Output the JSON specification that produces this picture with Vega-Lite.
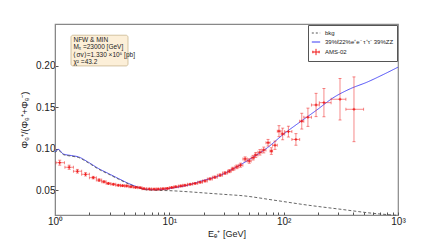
{
  "$schema": "https://vega.github.io/schema/vega-lite/v6.json",
  "width": 343,
  "height": 191,
  "autosize": {"type": "none"},
  "padding": {"left": 55, "top": 24, "right": 45, "bottom": 25},
  "config": {
    "font": "Liberation Sans",
    "view": {"stroke": "#888888", "strokeWidth": 1.2},
    "axis": {"grid": false, "domainColor": "#888888", "tickColor": "#555555", "labelColor": "#222222", "titleColor": "#222222", "labelFont": "Liberation Sans", "titleFont": "Liberation Sans"}
  },
  "datasets": {
    "curves": [
      {"E": 1.0, "v": 0.096, "series": "39%ℓ22%e⁺e⁻ τ⁺τ⁻ 39%ZZ"},
      {"E": 1.07, "v": 0.099, "series": "39%ℓ22%e⁺e⁻ τ⁺τ⁻ 39%ZZ"},
      {"E": 1.18, "v": 0.0935, "series": "39%ℓ22%e⁺e⁻ τ⁺τ⁻ 39%ZZ"},
      {"E": 1.4, "v": 0.0915, "series": "39%ℓ22%e⁺e⁻ τ⁺τ⁻ 39%ZZ"},
      {"E": 1.6, "v": 0.09, "series": "39%ℓ22%e⁺e⁻ τ⁺τ⁻ 39%ZZ"},
      {"E": 1.96, "v": 0.0835, "series": "39%ℓ22%e⁺e⁻ τ⁺τ⁻ 39%ZZ"},
      {"E": 2.4, "v": 0.076, "series": "39%ℓ22%e⁺e⁻ τ⁺τ⁻ 39%ZZ"},
      {"E": 2.93, "v": 0.07, "series": "39%ℓ22%e⁺e⁻ τ⁺τ⁻ 39%ZZ"},
      {"E": 3.58, "v": 0.064, "series": "39%ℓ22%e⁺e⁻ τ⁺τ⁻ 39%ZZ"},
      {"E": 4.4, "v": 0.058, "series": "39%ℓ22%e⁺e⁻ τ⁺τ⁻ 39%ZZ"},
      {"E": 5.35, "v": 0.0534, "series": "39%ℓ22%e⁺e⁻ τ⁺τ⁻ 39%ZZ"},
      {"E": 6.1, "v": 0.051, "series": "39%ℓ22%e⁺e⁻ τ⁺τ⁻ 39%ZZ"},
      {"E": 7.5, "v": 0.0505, "series": "39%ℓ22%e⁺e⁻ τ⁺τ⁻ 39%ZZ"},
      {"E": 9.2, "v": 0.0512, "series": "39%ℓ22%e⁺e⁻ τ⁺τ⁻ 39%ZZ"},
      {"E": 11.2, "v": 0.053, "series": "39%ℓ22%e⁺e⁻ τ⁺τ⁻ 39%ZZ"},
      {"E": 14.6, "v": 0.056, "series": "39%ℓ22%e⁺e⁻ τ⁺τ⁻ 39%ZZ"},
      {"E": 18.6, "v": 0.0605, "series": "39%ℓ22%e⁺e⁻ τ⁺τ⁻ 39%ZZ"},
      {"E": 23, "v": 0.064, "series": "39%ℓ22%e⁺e⁻ τ⁺τ⁻ 39%ZZ"},
      {"E": 28.7, "v": 0.0685, "series": "39%ℓ22%e⁺e⁻ τ⁺τ⁻ 39%ZZ"},
      {"E": 36, "v": 0.0755, "series": "39%ℓ22%e⁺e⁻ τ⁺τ⁻ 39%ZZ"},
      {"E": 51, "v": 0.0875, "series": "39%ℓ22%e⁺e⁻ τ⁺τ⁻ 39%ZZ"},
      {"E": 72, "v": 0.101, "series": "39%ℓ22%e⁺e⁻ τ⁺τ⁻ 39%ZZ"},
      {"E": 99, "v": 0.117, "series": "39%ℓ22%e⁺e⁻ τ⁺τ⁻ 39%ZZ"},
      {"E": 139, "v": 0.132, "series": "39%ℓ22%e⁺e⁻ τ⁺τ⁻ 39%ZZ"},
      {"E": 195, "v": 0.1465, "series": "39%ℓ22%e⁺e⁻ τ⁺τ⁻ 39%ZZ"},
      {"E": 270, "v": 0.161, "series": "39%ℓ22%e⁺e⁻ τ⁺τ⁻ 39%ZZ"},
      {"E": 382, "v": 0.172, "series": "39%ℓ22%e⁺e⁻ τ⁺τ⁻ 39%ZZ"},
      {"E": 537, "v": 0.18, "series": "39%ℓ22%e⁺e⁻ τ⁺τ⁻ 39%ZZ"},
      {"E": 740, "v": 0.189, "series": "39%ℓ22%e⁺e⁻ τ⁺τ⁻ 39%ZZ"},
      {"E": 1000, "v": 0.198, "series": "39%ℓ22%e⁺e⁻ τ⁺τ⁻ 39%ZZ"},
      {"E": 1.0, "v": 0.095, "series": "bkg"},
      {"E": 1.07, "v": 0.098, "series": "bkg"},
      {"E": 1.18, "v": 0.0928, "series": "bkg"},
      {"E": 1.4, "v": 0.0908, "series": "bkg"},
      {"E": 1.6, "v": 0.0893, "series": "bkg"},
      {"E": 1.96, "v": 0.0828, "series": "bkg"},
      {"E": 2.4, "v": 0.0753, "series": "bkg"},
      {"E": 2.93, "v": 0.0693, "series": "bkg"},
      {"E": 3.58, "v": 0.0633, "series": "bkg"},
      {"E": 4.4, "v": 0.0574, "series": "bkg"},
      {"E": 5.35, "v": 0.053, "series": "bkg"},
      {"E": 6.1, "v": 0.0505, "series": "bkg"},
      {"E": 7.5, "v": 0.0497, "series": "bkg"},
      {"E": 10, "v": 0.0493, "series": "bkg"},
      {"E": 14.6, "v": 0.048, "series": "bkg"},
      {"E": 20, "v": 0.0466, "series": "bkg"},
      {"E": 35, "v": 0.0442, "series": "bkg"},
      {"E": 41.5, "v": 0.0435, "series": "bkg"},
      {"E": 81, "v": 0.038, "series": "bkg"},
      {"E": 160, "v": 0.032, "series": "bkg"},
      {"E": 311, "v": 0.027, "series": "bkg"},
      {"E": 608, "v": 0.022, "series": "bkg"},
      {"E": 1000, "v": 0.0195, "series": "bkg"}
    ],
    "ams": [
      {"E": 1.1, "v": 0.083, "lo": 0.080, "hi": 0.086, "elo": 1.02, "ehi": 1.21, "series": "AMS-02"},
      {"E": 1.33, "v": 0.0775, "lo": 0.075, "hi": 0.080, "elo": 1.22, "ehi": 1.45, "series": "AMS-02"},
      {"E": 1.57, "v": 0.0727, "lo": 0.0705, "hi": 0.0749, "elo": 1.45, "ehi": 1.71, "series": "AMS-02"},
      {"E": 1.85, "v": 0.069, "lo": 0.067, "hi": 0.071, "elo": 1.71, "ehi": 2.0, "series": "AMS-02"},
      {"E": 2.16, "v": 0.065, "lo": 0.0635, "hi": 0.0665, "elo": 2.0, "ehi": 2.3, "series": "AMS-02"},
      {"E": 2.43, "v": 0.062, "lo": 0.0605, "hi": 0.0635, "elo": 2.3, "ehi": 2.56, "series": "AMS-02"},
      {"E": 2.68, "v": 0.06, "lo": 0.0588, "hi": 0.0612, "elo": 2.56, "ehi": 2.8, "series": "AMS-02"},
      {"E": 2.93, "v": 0.058, "lo": 0.0568, "hi": 0.0592, "elo": 2.8, "ehi": 3.08, "series": "AMS-02"},
      {"E": 3.24, "v": 0.057, "lo": 0.056, "hi": 0.058, "elo": 3.08, "ehi": 3.4, "series": "AMS-02"},
      {"E": 3.58, "v": 0.0558, "lo": 0.0548, "hi": 0.0568, "elo": 3.4, "ehi": 3.74, "series": "AMS-02"},
      {"E": 3.9, "v": 0.0553, "lo": 0.0543, "hi": 0.0563, "elo": 3.74, "ehi": 4.07, "series": "AMS-02"},
      {"E": 4.24, "v": 0.055, "lo": 0.054, "hi": 0.056, "elo": 4.07, "ehi": 4.43, "series": "AMS-02"},
      {"E": 4.62, "v": 0.054, "lo": 0.053, "hi": 0.055, "elo": 4.43, "ehi": 4.84, "series": "AMS-02"},
      {"E": 5.07, "v": 0.0533, "lo": 0.0523, "hi": 0.0543, "elo": 4.84, "ehi": 5.3, "series": "AMS-02"},
      {"E": 5.54, "v": 0.0529, "lo": 0.0519, "hi": 0.0539, "elo": 5.3, "ehi": 5.77, "series": "AMS-02"},
      {"E": 6.0, "v": 0.0517, "lo": 0.0507, "hi": 0.0527, "elo": 5.77, "ehi": 6.34, "series": "AMS-02"},
      {"E": 6.68, "v": 0.0513, "lo": 0.0503, "hi": 0.0523, "elo": 6.34, "ehi": 7.0, "series": "AMS-02"},
      {"E": 7.35, "v": 0.0511, "lo": 0.0501, "hi": 0.0521, "elo": 7.0, "ehi": 7.67, "series": "AMS-02"},
      {"E": 8.0, "v": 0.0512, "lo": 0.0502, "hi": 0.0522, "elo": 7.67, "ehi": 8.4, "series": "AMS-02"},
      {"E": 8.8, "v": 0.0516, "lo": 0.0506, "hi": 0.0526, "elo": 8.4, "ehi": 9.2, "series": "AMS-02"},
      {"E": 9.6, "v": 0.052, "lo": 0.051, "hi": 0.053, "elo": 9.2, "ehi": 10.0, "series": "AMS-02"},
      {"E": 10.5, "v": 0.0531, "lo": 0.0521, "hi": 0.0541, "elo": 10.0, "ehi": 10.95, "series": "AMS-02"},
      {"E": 11.4, "v": 0.054, "lo": 0.053, "hi": 0.055, "elo": 10.95, "ehi": 12.0, "series": "AMS-02"},
      {"E": 12.6, "v": 0.055, "lo": 0.054, "hi": 0.056, "elo": 12.0, "ehi": 13.1, "series": "AMS-02"},
      {"E": 13.7, "v": 0.0558, "lo": 0.0548, "hi": 0.0568, "elo": 13.1, "ehi": 14.4, "series": "AMS-02"},
      {"E": 15.2, "v": 0.057, "lo": 0.056, "hi": 0.058, "elo": 14.4, "ehi": 16.0, "series": "AMS-02"},
      {"E": 16.8, "v": 0.058, "lo": 0.057, "hi": 0.059, "elo": 16.0, "ehi": 17.7, "series": "AMS-02"},
      {"E": 18.6, "v": 0.0595, "lo": 0.0584, "hi": 0.0606, "elo": 17.7, "ehi": 19.5, "series": "AMS-02"},
      {"E": 20.5, "v": 0.061, "lo": 0.0598, "hi": 0.0622, "elo": 19.5, "ehi": 21.5, "series": "AMS-02"},
      {"E": 22.7, "v": 0.0635, "lo": 0.0622, "hi": 0.0648, "elo": 21.5, "ehi": 23.8, "series": "AMS-02"},
      {"E": 25, "v": 0.0655, "lo": 0.0641, "hi": 0.0669, "elo": 23.8, "ehi": 26.3, "series": "AMS-02"},
      {"E": 27.8, "v": 0.068, "lo": 0.0665, "hi": 0.0695, "elo": 26.3, "ehi": 29.2, "series": "AMS-02"},
      {"E": 30.7, "v": 0.0705, "lo": 0.0689, "hi": 0.0721, "elo": 29.2, "ehi": 32.3, "series": "AMS-02"},
      {"E": 33.5, "v": 0.0728, "lo": 0.071, "hi": 0.0746, "elo": 32.3, "ehi": 34.8, "series": "AMS-02"},
      {"E": 36, "v": 0.0755, "lo": 0.0735, "hi": 0.0775, "elo": 34.8, "ehi": 37.5, "series": "AMS-02"},
      {"E": 39, "v": 0.078, "lo": 0.0758, "hi": 0.0802, "elo": 37.5, "ehi": 40.5, "series": "AMS-02"},
      {"E": 42, "v": 0.08, "lo": 0.0776, "hi": 0.0824, "elo": 40.5, "ehi": 44, "series": "AMS-02"},
      {"E": 46, "v": 0.0875, "lo": 0.085, "hi": 0.09, "elo": 44, "ehi": 48, "series": "AMS-02"},
      {"E": 50, "v": 0.085, "lo": 0.0823, "hi": 0.0877, "elo": 48, "ehi": 52, "series": "AMS-02"},
      {"E": 54, "v": 0.089, "lo": 0.0862, "hi": 0.0918, "elo": 52, "ehi": 55.5, "series": "AMS-02"},
      {"E": 57, "v": 0.0923, "lo": 0.0893, "hi": 0.0953, "elo": 55.5, "ehi": 59.5, "series": "AMS-02"},
      {"E": 62, "v": 0.0955, "lo": 0.0922, "hi": 0.0988, "elo": 59.5, "ehi": 64.5, "series": "AMS-02"},
      {"E": 67, "v": 0.0983, "lo": 0.0948, "hi": 0.1018, "elo": 64.5, "ehi": 70, "series": "AMS-02"},
      {"E": 73, "v": 0.107, "lo": 0.103, "hi": 0.111, "elo": 70, "ehi": 76, "series": "AMS-02"},
      {"E": 78, "v": 0.097, "lo": 0.093, "hi": 0.101, "elo": 76, "ehi": 80, "series": "AMS-02"},
      {"E": 84, "v": 0.104, "lo": 0.099, "hi": 0.109, "elo": 80, "ehi": 88, "series": "AMS-02"},
      {"E": 91, "v": 0.121, "lo": 0.1144, "hi": 0.1276, "elo": 88, "ehi": 95, "series": "AMS-02"},
      {"E": 98, "v": 0.1176, "lo": 0.1106, "hi": 0.1246, "elo": 95, "ehi": 102, "series": "AMS-02"},
      {"E": 110, "v": 0.1204, "lo": 0.1139, "hi": 0.1269, "elo": 102, "ehi": 118, "series": "AMS-02"},
      {"E": 128, "v": 0.111, "lo": 0.104, "hi": 0.118, "elo": 118, "ehi": 138, "series": "AMS-02"},
      {"E": 144, "v": 0.133, "lo": 0.1235, "hi": 0.1425, "elo": 138, "ehi": 150, "series": "AMS-02"},
      {"E": 163, "v": 0.1377, "lo": 0.1267, "hi": 0.1487, "elo": 150, "ehi": 175, "series": "AMS-02"},
      {"E": 192, "v": 0.1525, "lo": 0.1385, "hi": 0.1665, "elo": 175, "ehi": 205, "series": "AMS-02"},
      {"E": 225, "v": 0.1553, "lo": 0.1383, "hi": 0.1723, "elo": 205, "ehi": 260, "series": "AMS-02"},
      {"E": 311, "v": 0.1594, "lo": 0.1344, "hi": 0.1844, "elo": 260, "ehi": 350, "series": "AMS-02"},
      {"E": 412, "v": 0.1473, "lo": 0.1083, "hi": 0.1863, "elo": 350, "ehi": 500, "series": "AMS-02"}
    ]
  },
  "layer": [
    {
      "data": {"values": [{"box": "fit"}]},
      "mark": {"type": "rect", "fill": "#fcefd8", "stroke": "#c9b68f", "strokeWidth": 0.8, "cornerRadius": 2},
      "encoding": {
        "x": {"datum": 1.38, "type": "quantitative", "title": "Eₑ⁺ [GeV]", "scale": {"type": "log", "domain": [1, 1000], "nice": false}},
        "x2": {"datum": 4.35},
        "y": {"datum": 0.2365, "type": "quantitative", "title": "Φₑ⁺/(Φₑ⁺+Φₑ⁻)"},
        "y2": {"datum": 0.1995}
      }
    },
    {
      "data": {"values": [{"box": "fit"}]},
      "mark": {"type": "text", "align": "left", "baseline": "top", "fontSize": 6.5, "lineHeight": 7.5, "color": "#222222", "text": ["NFW & MIN", "Mᵪ =23000 [GeV]", "⟨σv⟩=1.330 ×10⁵ [pb]", "χ² =43.2"]},
      "encoding": {
        "x": {"datum": 1.45, "type": "quantitative", "title": "Eₑ⁺ [GeV]"},
        "y": {"datum": 0.2345, "type": "quantitative", "title": "Φₑ⁺/(Φₑ⁺+Φₑ⁻)"}
      }
    },
    {
      "data": {"name": "curves"},
      "mark": {"type": "line", "strokeWidth": 0.9, "interpolate": "monotone"},
      "encoding": {
        "x": {"field": "E", "type": "quantitative", "title": "Eₑ⁺ [GeV]", "scale": {"type": "log", "domain": [1, 1000], "nice": false},
          "axis": {"values": [1,2,3,4,5,6,7,8,9,10,20,30,40,50,60,70,80,90,100,200,300,400,500,600,700,800,900,1000],
            "labelExpr": "datum.value == 1 ? '10⁰' : datum.value == 10 ? '10¹' : datum.value == 100 ? '10²' : datum.value == 1000 ? '10³' : ''",
            "tickSize": -3, "labelPadding": 4, "labelFontSize": 10, "labelFlush": false, "titleFontSize": 9, "titleFontWeight": "normal", "titlePadding": 3}},
        "y": {"field": "v", "type": "quantitative", "title": "Φₑ⁺/(Φₑ⁺+Φₑ⁻)", "scale": {"domain": [0.02, 0.25], "nice": false, "zero": false},
          "axis": {"values": [0.05, 0.1, 0.15, 0.2], "format": ".2f", "tickSize": -3, "labelPadding": 3, "labelFontSize": 10,
            "titleFontSize": 9.5, "titleFontWeight": "normal", "titlePadding": 6}},
        "color": {"field": "series", "type": "nominal",
          "scale": {"domain": ["bkg", "39%ℓ22%e⁺e⁻ τ⁺τ⁻ 39%ZZ", "AMS-02"], "range": ["#555555", "#3b3bf5", "#f01818"]},
          "legend": {"title": null, "orient": "top-right", "offset": 1, "padding": 3, "strokeColor": "#555555", "fillColor": "#ffffff",
            "labelFontSize": 6, "labelColor": "#222222", "rowPadding": 1, "symbolSize": 70, "symbolStrokeWidth": 1, "symbolType": "stroke",
            "encode": {"symbols": {"update": {
              "shape": {"signal": "datum.value === 'AMS-02' ? 'M-1,0L1,0M0,-1L0,1M-1,-0.4L-1,0.4M1,-0.4L1,0.4' : 'stroke'"},
              "strokeDash": {"signal": "datum.value === 'bkg' ? [2, 2] : []"},
              "fill": {"value": "transparent"},
              "size": {"signal": "datum.value === 'AMS-02' ? 40 : 70"}
            }}}}},
        "strokeDash": {"field": "series", "type": "nominal",
          "scale": {"domain": ["bkg", "39%ℓ22%e⁺e⁻ τ⁺τ⁻ 39%ZZ"], "range": [[3, 2], [1, 0]]}, "legend": null}
      }
    },
    {
      "data": {"name": "ams"},
      "mark": {"type": "errorbar", "ticks": {"size": 3}, "opacity": 0.5, "thickness": 1},
      "encoding": {
        "x": {"field": "E", "type": "quantitative", "title": "Eₑ⁺ [GeV]"},
        "y": {"field": "lo", "type": "quantitative", "title": "Φₑ⁺/(Φₑ⁺+Φₑ⁻)"},
        "y2": {"field": "hi"},
        "color": {"field": "series", "type": "nominal"}
      }
    },
    {
      "data": {"name": "ams"},
      "mark": {"type": "errorbar", "ticks": {"size": 3}, "opacity": 0.5, "thickness": 1},
      "encoding": {
        "y": {"field": "v", "type": "quantitative", "title": "Φₑ⁺/(Φₑ⁺+Φₑ⁻)"},
        "x": {"field": "elo", "type": "quantitative", "title": "Eₑ⁺ [GeV]"},
        "x2": {"field": "ehi"},
        "color": {"field": "series", "type": "nominal"}
      }
    },
    {
      "data": {"name": "ams"},
      "mark": {"type": "point", "shape": "M-1,0L1,0M0,-1L0,1", "size": 8, "strokeWidth": 1, "filled": false, "opacity": 0.9},
      "encoding": {
        "x": {"field": "E", "type": "quantitative", "title": "Eₑ⁺ [GeV]"},
        "y": {"field": "v", "type": "quantitative", "title": "Φₑ⁺/(Φₑ⁺+Φₑ⁻)"},
        "color": {"field": "series", "type": "nominal"}
      }
    }
  ]
}
